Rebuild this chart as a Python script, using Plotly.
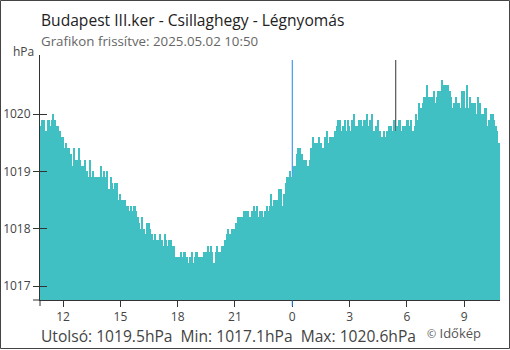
import pandas as pd
import plotly.graph_objects as go

# Air pressure at Budapest III.ker - Csillaghegy, 5-minute readings (hPa)
START = "2025-05-01 10:50"
STEP = "5min"
pressure = [
    1019.8, 1019.9, 1019.9, 1019.7, 1019.7, 1019.9, 1019.8, 1019.9, 1020.0, 1019.9,
    1019.8, 1019.8, 1019.7, 1019.6, 1019.6, 1019.4, 1019.5, 1019.4, 1019.4, 1019.3,
    1019.1, 1019.4, 1019.2, 1019.2, 1019.4, 1019.2, 1019.1, 1019.1, 1019.2, 1019.0,
    1018.9, 1019.2, 1018.9, 1019.0, 1018.9, 1018.9, 1018.9, 1018.9, 1019.1, 1018.9,
    1019.0, 1018.9, 1019.0, 1018.7, 1018.9, 1018.8, 1018.7, 1018.8, 1018.8, 1018.5,
    1018.6, 1018.5, 1018.5, 1018.5, 1018.4, 1018.4, 1018.3, 1018.4, 1018.3, 1018.4,
    1018.3, 1018.2, 1018.1, 1018.0, 1018.2, 1018.0, 1017.9, 1018.1, 1018.1, 1018.0,
    1017.9, 1017.8, 1017.9, 1017.8, 1017.8, 1017.9, 1017.8, 1017.7, 1017.9, 1017.8,
    1017.7, 1017.8, 1017.8, 1017.7, 1017.7, 1017.5, 1017.5, 1017.5, 1017.6, 1017.5,
    1017.6, 1017.6, 1017.5, 1017.4, 1017.5, 1017.6, 1017.4, 1017.5, 1017.6, 1017.5,
    1017.5, 1017.5, 1017.5, 1017.6, 1017.6, 1017.7, 1017.6, 1017.7, 1017.6, 1017.4,
    1017.6, 1017.7, 1017.6, 1017.6, 1017.7, 1017.7, 1017.8, 1017.9, 1018.0, 1017.9,
    1018.0, 1018.0, 1018.0, 1018.1, 1018.2, 1018.2, 1018.2, 1018.2, 1018.3, 1018.3,
    1018.3, 1018.2, 1018.2, 1018.3, 1018.4, 1018.3, 1018.4, 1018.2, 1018.3, 1018.3,
    1018.2, 1018.3, 1018.4, 1018.3, 1018.4, 1018.6, 1018.4, 1018.5, 1018.5, 1018.5,
    1018.7, 1018.7, 1018.4, 1018.6, 1018.8, 1018.9, 1018.9, 1019.0, 1018.9, 1019.1,
    1019.1, 1019.3, 1019.4, 1019.4, 1019.3, 1019.2, 1019.2, 1019.2, 1019.1, 1019.2,
    1019.4, 1019.6, 1019.5, 1019.5, 1019.5, 1019.6, 1019.5, 1019.4, 1019.4, 1019.6,
    1019.7, 1019.5, 1019.6, 1019.6, 1019.6, 1019.7, 1019.8, 1019.9, 1019.9, 1019.7,
    1019.8, 1019.9, 1019.7, 1019.9, 1019.8, 1019.7, 1019.9, 1020.0, 1019.8, 1019.8,
    1019.9, 1019.9, 1019.8, 1019.9, 1019.9, 1020.0, 1019.8, 1019.9, 1020.0, 1019.7,
    1019.7, 1019.8, 1019.9, 1019.7, 1019.6, 1019.6, 1019.7, 1019.6, 1019.7, 1019.8,
    1019.8, 1019.7, 1019.9, 1019.7, 1019.8, 1019.9, 1019.9, 1019.7, 1019.8, 1019.8,
    1019.9, 1019.9, 1019.8, 1019.9, 1019.7, 1019.8, 1020.0, 1019.9, 1020.2, 1020.1,
    1020.2, 1020.3, 1020.3, 1020.5, 1020.3, 1020.3, 1020.3, 1020.4, 1020.2,
    1020.3, 1020.4, 1020.4, 1020.6, 1020.5, 1020.5, 1020.5, 1020.5, 1020.4, 1020.3,
    1020.1, 1020.2, 1020.3, 1020.2, 1020.2, 1020.1, 1020.4, 1020.4, 1020.1, 1020.5,
    1020.1, 1020.3, 1020.2, 1020.2, 1020.2, 1020.0, 1020.3, 1020.2, 1020.0, 1020.0,
    1020.1, 1020.1, 1019.8, 1019.9, 1020.0, 1020.0, 1019.9, 1019.8, 1019.7, 1019.5,
]

# Summary figures shown under the chart
LAST = 1019.5
MINIMUM = 1017.1
MAXIMUM = 1020.6

# Axis ticks
hour_ticks = ["2025-05-01 12:00", "2025-05-01 15:00", "2025-05-01 18:00", "2025-05-01 21:00",
              "2025-05-02 00:00", "2025-05-02 03:00", "2025-05-02 06:00", "2025-05-02 09:00"]
hour_labels = ["12", "15", "18", "21", "0", "3", "6", "9"]
pressure_ticks = [1017, 1018, 1019, 1020]

MIDNIGHT = "2025-05-02 00:00"
SUNRISE = "2025-05-02 05:25"

times = pd.date_range(START, periods=len(pressure), freq=STEP)
half_step = pd.Timedelta(STEP) / 2
x_range = [times[0] - half_step, times[-1] + half_step]
y_range = [1016.756, 1021.03]

FONT = "Open Sans"
BAR = "#40C0C2"
AXIS = "#333"
BLUE = "#1E88E5"

fig = go.Figure()
fig.add_trace(go.Bar(
    x=times, y=pressure, width=pd.Timedelta(STEP).total_seconds() * 1000,
    marker=dict(color=BAR, line=dict(width=0)), hoverinfo="x+y",
))
# carrier trace for the inner tick marks of the pressure axis
fig.add_trace(go.Scatter(x=[times[0]], y=[None], yaxis="y2", showlegend=False, hoverinfo="skip"))

# figure geometry (pixels)
W, H = 510, 350
L, R, T, B = 40, 10, 55, 50
pw, ph = W - L - R, H - T - B


def px(xp):
    return (xp - L) / pw


def py(yp):
    return (H - B - yp) / ph


fig.update_layout(
    width=W, height=H,
    margin=dict(l=L, r=R, t=T, b=B, autoexpand=False),
    paper_bgcolor="white", plot_bgcolor="white",
    showlegend=False, bargap=0,
    font=dict(family=FONT, color="#444", size=12),
    xaxis=dict(
        type="date", range=x_range, tickvals=hour_ticks, ticktext=hour_labels,
        automargin=False, showgrid=False, zeroline=False,
        showline=True, linecolor=AXIS, linewidth=1,
        ticks="outside", ticklen=6, tickcolor=AXIS, tickfont=dict(size=12, color="#444"),
    ),
    yaxis=dict(
        range=y_range, tickvals=pressure_ticks, automargin=False,
        showgrid=False, zeroline=False, showline=True, linecolor=AXIS, linewidth=1,
        ticks="outside", ticklen=6, tickcolor=AXIS, tickfont=dict(size=12, color="#444"),
    ),
    yaxis2=dict(
        range=y_range, overlaying="y", side="left", tickvals=pressure_ticks,
        automargin=False, showticklabels=False, showgrid=False, zeroline=False, showline=False,
        ticks="inside", ticklen=7, tickcolor=AXIS,
    ),
)

shapes = [
    # midnight and sunrise markers behind the bars
    dict(type="line", xref="x", yref="paper", x0=MIDNIGHT, x1=MIDNIGHT, y0=0, y1=py(60),
         line=dict(color=BLUE, width=1), layer="below"),
    dict(type="line", xref="x", yref="paper", x0=SUNRISE, x1=SUNRISE, y0=0, y1=py(60),
         line=dict(color=AXIS, width=1), layer="below"),
    # blue tick at midnight
    dict(type="line", xref="x", yref="paper", x0=MIDNIGHT, x1=MIDNIGHT, y0=py(306), y1=py(300.5),
         line=dict(color=BLUE, width=1), layer="above"),
    # axis lines running past the corner
    dict(type="line", xref="paper", yref="paper", x0=px(33), x1=0, y0=0, y1=0,
         line=dict(color=AXIS, width=1), layer="above"),
    dict(type="line", xref="paper", yref="paper", x0=0, x1=0, y0=py(306), y1=0,
         line=dict(color=AXIS, width=1), layer="above"),
    # frame around the whole graphic
    dict(type="rect", xref="paper", yref="paper", x0=px(0.5), x1=px(509.5), y0=py(348.5), y1=py(0.5),
         line=dict(color="#444", width=1), layer="above"),
]
fig.update_layout(shapes=shapes)

annotations = [
    dict(text="Budapest III.ker - Csillaghegy - Légnyomás", x=px(39), y=py(20),
         font=dict(size=15.6, color="#222")),
    dict(text="Grafikon frissítve: 2025.05.02 10:50", x=px(39), y=py(41),
         font=dict(size=13.3, color="#666")),
    dict(text="hPa", x=px(36), y=py(51), xanchor="right", font=dict(size=12, color="#444")),
    dict(text=f"Utolsó: {LAST:.1f}hPa  Min: {MINIMUM:.1f}hPa  Max: {MAXIMUM:.1f}hPa",
         x=px(39), y=py(335.5), font=dict(size=15.6, color="#444")),
    dict(text="<span style='font-size:11px'>©</span> Időkép", x=px(425), y=py(332.5),
         font=dict(size=13, color="#555")),
]
for a in annotations:
    a.setdefault("xanchor", "left")
    fig.add_annotation(xref="paper", yref="paper", yanchor="middle", showarrow=False, **a)

fig.write_html("out.html")
